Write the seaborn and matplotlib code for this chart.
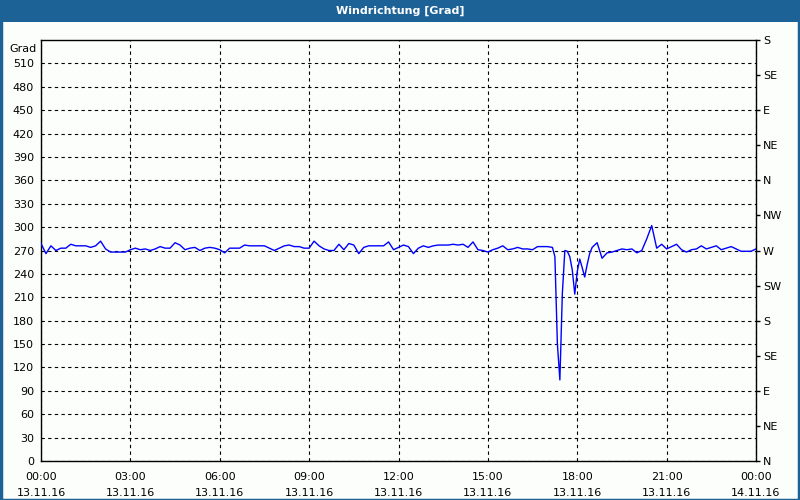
import matplotlib
matplotlib.use("Agg")
import matplotlib.pyplot as plt
from matplotlib.patches import Rectangle
import seaborn as sns
import pandas as pd

# ---------------- data ----------------
title = "Windrichtung [Grad]"
unit_label = "Grad"

# 10-minute readings 00:00 .. 17:10
regular_part_1 = [
    279, 266, 276, 270, 273, 273, 278, 276, 276, 276, 274, 276,   # 00:00-01:50
    282, 272, 268, 268, 268, 268, 271, 273, 271, 272, 270, 272,   # 02:00-03:50
    275, 273, 273, 280, 277, 271, 273, 274, 270, 273, 274, 273,   # 04:00-05:50
    271, 267, 273, 273, 273, 277, 276, 276, 276, 276, 273, 270,   # 06:00-07:50
    273, 276, 277, 275, 275, 273, 273, 282, 276, 272, 270, 270,   # 08:00-09:50
    278, 271, 279, 277, 266, 274, 276, 276, 276, 276, 281, 271,   # 10:00-11:50
    274, 277, 275, 266, 273, 276, 274, 276, 277, 277, 277, 278,   # 12:00-13:50
    277, 278, 274, 281, 271, 270, 268, 271, 273, 276, 271, 272,   # 14:00-15:50
    274, 272, 272, 271, 275, 275, 275, 274,                       # 16:00-17:10
]
# 5-minute readings 17:15 .. 18:30
gust_part = [262, 150, 104, 215, 270, 269, 262, 245, 214, 243, 259,
             248, 236, 252, 266, 274]
# 10-minute readings 18:40 .. 24:00
regular_part_2 = [
    280, 260, 267, 268, 270, 272, 271, 272,                       # 18:40-19:50
    267, 270, 285, 302, 273, 278,                                 # 20:00-20:50
    272, 275, 278, 271, 268, 271,                                 # 21:00-21:50
    272, 276, 272, 274, 276, 271,                                 # 22:00-22:50
    273, 275, 272, 269, 269, 269, 272,                            # 23:00-24:00
]

minutes = ([10 * i for i in range(len(regular_part_1))]
           + [1035 + 5 * i for i in range(len(gust_part))]
           + [1120 + 10 * i for i in range(len(regular_part_2))])
values = regular_part_1 + gust_part + regular_part_2

x_tick_hours = [0, 3, 6, 9, 12, 15, 18, 21, 24]
x_tick_labels = ["00:00\n13.11.16", "03:00\n13.11.16", "06:00\n13.11.16",
                 "09:00\n13.11.16", "12:00\n13.11.16", "15:00\n13.11.16",
                 "18:00\n13.11.16", "21:00\n13.11.16", "00:00\n14.11.16"]
left_ticks = list(range(0, 540, 30))
right_ticks = list(range(0, 541, 45))
right_labels = ["N", "NE", "E", "SE", "S", "SW", "W", "NW",
                "N", "NE", "E", "SE", "S"]

df = pd.DataFrame({"hours": [m / 60 for m in minutes], "deg": values})

# ---------------- style ----------------
sns.set_style("white")
plt.rcParams["font.family"] = ["DejaVu Sans"]
plt.rcParams["font.size"] = 8
for key in ["text.color", "xtick.color", "ytick.color", "axes.labelcolor"]:
    plt.rcParams[key] = "black"

bg = "#fcfefc"
bar_blue = "#1d6297"

fig = plt.figure(figsize=(8, 5), dpi=100, facecolor=bg)
# title bar and border
fig.patches.append(Rectangle((0, 1 - 22 / 500), 1, 22 / 500, transform=fig.transFigure,
                             facecolor=bar_blue, edgecolor="none", zorder=0))
fig.patches.append(Rectangle((0.5 / 800, 0.5 / 500), 1 - 2 / 800, 1 - 2 / 500,
                             transform=fig.transFigure, facecolor="none",
                             edgecolor=bar_blue, lw=2.5, zorder=1))
fig.text(0.5, 1 - 11 / 500, title, color="white", ha="center", va="center",
         fontsize=8, fontweight="bold")

ax = fig.add_axes([41 / 800, 39 / 500, 715 / 800, 421 / 500])
ax.set_facecolor(bg)

sns.lineplot(data=df, x="hours", y="deg", ax=ax, color="#0000ff", lw=1,
             zorder=3, estimator=None)

ax.set_xlim(0, 24)
ax.set_ylim(0, 540)
ax.set_xlabel("")
ax.set_ylabel("")

ax.set_xticks(x_tick_hours)
ax.set_xticklabels(x_tick_labels, linespacing=1.75)
ax.set_xticks(range(0, 25), minor=True)
ax.set_yticks(left_ticks)
ax.set_yticklabels([str(v) for v in left_ticks])

ax.tick_params(axis="x", which="both", direction="out", length=3, width=1,
               color="black", pad=5, labelsize=8, labelcolor="black")
ax.tick_params(axis="y", which="both", length=0, pad=5, labelsize=8,
               labelcolor="black")

for s in ax.spines.values():
    s.set_color("black")
    s.set_linewidth(1)

ax.grid(True, which="major", color="black", ls=(0, (3, 3)), lw=0.8, zorder=1)

ax.text(-4 / 715, 529, unit_label, transform=ax.get_yaxis_transform(),
        ha="right", va="center", fontsize=8, color="black")

ax2 = ax.twinx()
ax2.set_ylim(0, 540)
ax2.set_yticks(right_ticks)
ax2.set_yticklabels(right_labels)
ax2.tick_params(axis="y", direction="out", length=3, width=1, pad=2, labelsize=8,
                color="black", labelcolor="black")
for s in ax2.spines.values():
    s.set_visible(False)
ax2.grid(False)

fig.savefig("out.png", dpi=100, facecolor=bg)
